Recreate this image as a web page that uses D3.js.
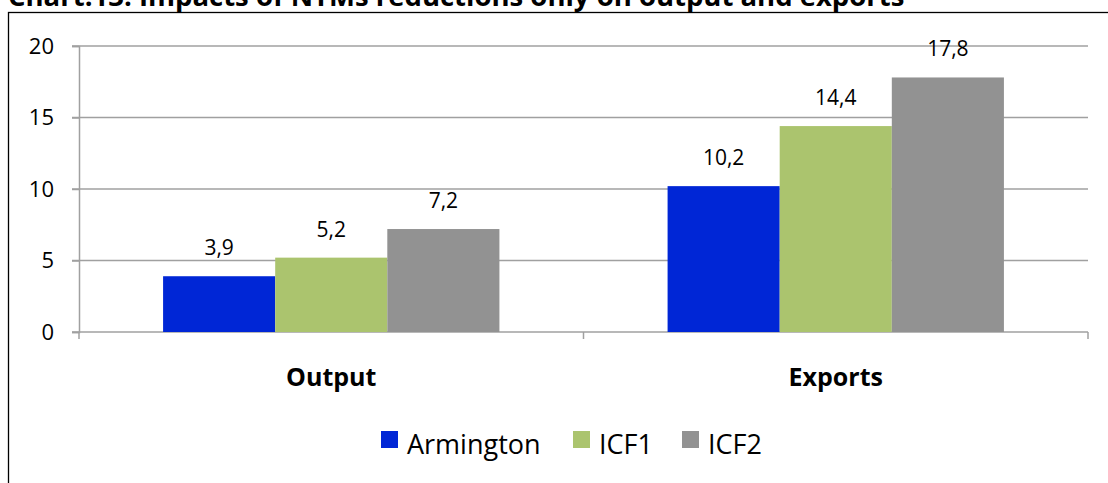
<!DOCTYPE html>
<html>
<head>
<meta charset="utf-8">
<script src="https://cdn.jsdelivr.net/npm/d3@7"></script>
<style>
  body { margin: 0; background: #fff; }
  svg { display: block; font-family: "Open Sans", sans-serif; }
</style>
</head>
<body>
<div id="chart"></div>
<script>
var categories = ["Output", "Exports"];
var series = ["Armington", "ICF1", "ICF2"];
var armington = [3.9, 10.2];
var icf1 = [5.2, 14.4];
var icf2 = [7.2, 17.8];
var yTicks = [0, 5, 10, 15, 20];
var colors = ["#0026d6", "#abc46e", "#929292"];

var values = [armington, icf1, icf2];

var W = 1108, H = 483;
var svg = d3.select("#chart").append("svg")
    .attr("width", W)
    .attr("height", H);

// title, cut off at the top like the source
svg.append("text")
    .attr("x", 8)
    .attr("y", 6)
    .style("font-size", "27.5px")
    .style("font-weight", "bold")
    .text("Chart.13: Impacts of NTMs reductions only on output and exports");

// chart frame
svg.append("rect")
    .attr("x", 8.5)
    .attr("y", 12.5)
    .attr("width", 1200)
    .attr("height", 500)
    .attr("fill", "#fff")
    .attr("stroke", "#000")
    .attr("stroke-width", 1.3);

var plotL = 79, plotR = 1088, plotT = 46, plotB = 332;

var x0 = d3.scaleBand()
    .domain(categories)
    .range([plotL, plotR]);

var x1 = d3.scaleBand()
    .domain(series)
    .range([0, x0.bandwidth()])
    .paddingOuter(0.75);

var y = d3.scaleLinear()
    .domain([0, 20])
    .range([plotB, plotT]);

// gridlines
svg.append("g")
    .selectAll("line")
    .data(yTicks)
    .enter()
    .append("line")
    .attr("x1", plotL - 7)
    .attr("x2", plotR)
    .attr("y1", function(d) { return y(d); })
    .attr("y2", function(d) { return y(d); })
    .attr("stroke", "#a0a0a0")
    .attr("stroke-width", 1.5);

// y axis
var yAxis = d3.axisLeft(y)
    .tickValues(yTicks)
    .tickSize(7)
    .tickPadding(18);

var gy = svg.append("g")
    .attr("transform", "translate(" + plotL + ",0)")
    .call(yAxis);
gy.select(".domain").attr("stroke", "#a0a0a0").attr("stroke-width", 1.5);
gy.selectAll(".tick line").attr("stroke", "#a0a0a0").attr("stroke-width", 1.5);
gy.selectAll(".tick text")
    .style("font-size", "22px")
    .style("font-family", "Open Sans")
    .attr("fill", "#000");

// x axis category ticks
var catTicks = [plotL, plotL + x0.bandwidth(), plotR];
svg.append("g")
    .selectAll("line")
    .data(catTicks)
    .enter()
    .append("line")
    .attr("x1", function(d) { return d; })
    .attr("x2", function(d) { return d; })
    .attr("y1", plotB)
    .attr("y2", plotB + 7)
    .attr("stroke", "#a0a0a0")
    .attr("stroke-width", 1.5);

svg.append("g")
    .selectAll("text")
    .data(categories)
    .enter()
    .append("text")
    .attr("x", function(d) { return x0(d) + x0.bandwidth() / 2; })
    .attr("y", 386)
    .attr("text-anchor", "middle")
    .style("font-size", "25px")
    .style("font-weight", "bold")
    .text(function(d) { return d; });

// bars
var groups = svg.append("g")
    .selectAll("g")
    .data(categories)
    .enter()
    .append("g")
    .attr("transform", function(d) { return "translate(" + x0(d) + ",0)"; });

var fmt = function(v) { return d3.format(".1f")(v).replace(".", ","); };

groups.selectAll("rect")
    .data(function(d, i) { return series.map(function(s, j) { return { s: s, v: values[j][i], c: colors[j] }; }); })
    .enter()
    .append("rect")
    .attr("x", function(d) { return x1(d.s); })
    .attr("y", function(d) { return y(d.v); })
    .attr("width", x1.bandwidth())
    .attr("height", function(d) { return y(0) - y(d.v); })
    .attr("fill", function(d) { return d.c; });

groups.selectAll("text")
    .data(function(d, i) { return series.map(function(s, j) { return { s: s, v: values[j][i] }; }); })
    .enter()
    .append("text")
    .attr("x", function(d) { return x1(d.s) + x1.bandwidth() / 2; })
    .attr("y", function(d) { return y(d.v) - 21; })
    .attr("text-anchor", "middle")
    .style("font-size", "21px")
    .text(function(d) { return fmt(d.v); });

// legend
var legendX = [381, 573, 682];
var legend = svg.append("g")
    .selectAll("g")
    .data(series)
    .enter()
    .append("g")
    .attr("transform", function(d, i) { return "translate(" + legendX[i] + ",431)"; });

legend.append("rect")
    .attr("width", 17)
    .attr("height", 17)
    .attr("fill", function(d, i) { return colors[i]; });

legend.append("text")
    .attr("x", 26)
    .attr("y", 23)
    .style("font-size", "27px")
    .text(function(d) { return d; });
</script>
</body>
</html>
